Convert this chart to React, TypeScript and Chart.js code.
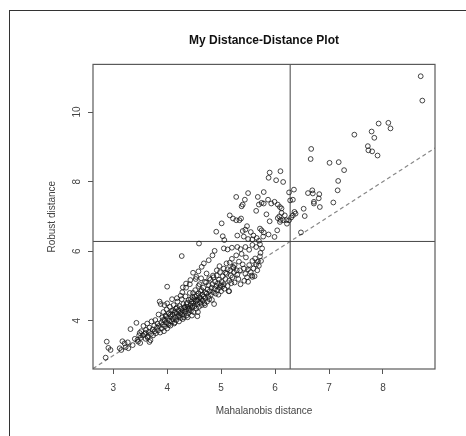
import React, { useEffect, useRef } from "react";
import { Chart, registerables } from "chart.js";

Chart.register(...registerables);

const chartTitle = "My Distance-Distance Plot";
const xAxisTitle = "Mahalanobis distance";
const yAxisTitle = "Robust distance";

const xTickValues = [3, 4, 5, 6, 7, 8];
const yTickValues = [4, 6, 8, 10];

const xRange = [2.625, 8.965];
const yRange = [2.613, 11.37];

// chi-square cutoff used for both distances
const cutoffValue = 6.28;

// [mahalanobis, robust]
const lowerTail: [number, number][] = [
  [2.86, 2.94], [2.88, 3.40], [2.91, 3.22], [2.95, 3.16], [3.12, 3.21], [3.15, 3.16],
  [3.17, 3.41], [3.21, 3.35], [3.23, 3.24], [3.27, 3.38], [3.28, 3.21], [3.32, 3.76],
  [3.36, 3.30], [3.40, 3.48], [3.43, 3.94], [3.45, 3.45], [3.46, 3.40], [3.48, 3.58],
  [3.49, 3.65], [3.51, 3.51], [3.50, 3.36], [3.60, 3.65], [3.64, 3.51], [3.67, 3.39],
];

const denseCore: [number, number][] = [
  [3.52, 3.70], [3.55, 3.58], [3.56, 3.85], [3.58, 3.62], [3.60, 3.48], [3.61, 3.74],
  [3.63, 3.92], [3.64, 3.55], [3.66, 3.68], [3.67, 3.80], [3.69, 3.44], [3.70, 3.62],
  [3.71, 3.98], [3.73, 3.75], [3.74, 3.58], [3.76, 3.86], [3.77, 3.70], [3.78, 4.02],
  [3.79, 3.64], [3.81, 3.80], [3.82, 3.92], [3.83, 3.72], [3.84, 4.18], [3.85, 3.85],
  [3.86, 4.55], [3.87, 3.66], [3.88, 4.48], [3.89, 3.95], [3.90, 3.78], [3.91, 4.10],
  [3.92, 3.88], [3.93, 4.25], [3.94, 3.70], [3.95, 4.02], [3.96, 3.84], [3.97, 4.15],
  [3.98, 3.95], [3.99, 4.32], [4.00, 3.78], [4.01, 4.08], [4.02, 3.92], [4.03, 4.22],
  [4.04, 4.00], [4.05, 4.40], [4.06, 3.86], [4.07, 4.12], [4.08, 4.28], [4.09, 3.98],
  [4.10, 4.18], [4.11, 4.05], [4.12, 4.45], [4.13, 3.92], [4.14, 4.25], [4.15, 4.10],
  [4.16, 4.35], [4.17, 4.02], [4.18, 4.20], [4.19, 4.55], [4.20, 4.12], [4.21, 4.30],
  [4.22, 3.98], [4.23, 4.42], [4.24, 4.22], [4.25, 4.08], [4.26, 4.35], [4.27, 4.62],
  [4.28, 4.18], [4.29, 4.28], [4.30, 4.48], [4.31, 4.10], [4.32, 4.38], [4.33, 4.25],
  [4.34, 4.70], [4.35, 4.32], [4.36, 4.15], [4.37, 4.52], [4.38, 4.40], [4.39, 4.22],
  [4.40, 4.60], [4.41, 4.35], [4.42, 4.80], [4.43, 4.45], [4.44, 4.28], [4.45, 4.55],
  [4.46, 4.38], [4.47, 4.68], [4.48, 4.50], [4.49, 4.25], [4.50, 4.62], [4.51, 4.42],
  [4.52, 4.88], [4.53, 4.55], [4.54, 4.35], [4.55, 4.72], [4.56, 4.48], [4.57, 4.60],
  [4.58, 5.00], [4.59, 4.40], [4.60, 4.68], [4.61, 4.52], [4.62, 4.85], [4.63, 4.62],
  [4.64, 4.45], [4.65, 4.75], [4.66, 4.58], [4.67, 4.95], [4.68, 4.70], [4.69, 4.50],
  [4.70, 4.82], [4.71, 4.65], [4.72, 5.10], [4.73, 4.78], [4.74, 4.55], [4.75, 4.90],
  [4.76, 4.70], [4.77, 5.02], [4.78, 4.62], [4.79, 4.85], [4.80, 5.18], [4.81, 4.75],
  [4.82, 4.95], [4.83, 4.60], [4.84, 5.05], [4.85, 4.82], [4.86, 5.25], [4.87, 4.48],
  [4.88, 4.92], [4.89, 5.12], [4.90, 4.78], [4.91, 5.00], [4.92, 5.30], [4.93, 4.88],
  [4.94, 5.08], [4.95, 4.75], [4.96, 5.18], [4.97, 4.95], [4.98, 5.40], [4.99, 5.02],
  [5.00, 4.85], [5.01, 5.12], [5.02, 4.98], [5.03, 5.28], [5.05, 5.05], [5.06, 4.92],
  [5.08, 5.20], [5.10, 5.35], [5.12, 5.00], [5.14, 4.85], [5.15, 5.15], [5.17, 5.45],
  [5.19, 5.08], [5.21, 5.25], [5.23, 5.52], [5.25, 5.10],
  [3.92, 4.02], [3.98, 4.12], [4.03, 3.88], [4.06, 4.18], [4.11, 4.30], [4.14, 3.95],
  [4.18, 4.38], [4.22, 4.15], [4.26, 4.25], [4.29, 4.05], [4.33, 4.40], [4.36, 4.48],
  [4.40, 4.30], [4.44, 4.62], [4.47, 4.42], [4.51, 4.70], [4.55, 4.58], [4.58, 4.78],
  [4.61, 4.65], [4.64, 4.88], [4.57, 4.25], [4.46, 4.15], [4.38, 4.10], [4.48, 4.80],
  [4.53, 5.20], [4.42, 5.05], [4.35, 4.95], [4.28, 4.82], [4.25, 4.72], [4.18, 4.65],
  [3.95, 4.45], [4.00, 4.50], [4.09, 4.62], [4.56, 4.13], [4.70, 4.45],
];

const midBand: [number, number][] = [
  [4.27, 5.86], [4.88, 6.01], [4.84, 5.88], [4.77, 5.74], [4.68, 5.65], [4.64, 5.55],
  [4.48, 5.38], [4.54, 5.26], [4.63, 5.22], [4.73, 5.36], [4.43, 5.17], [4.35, 5.07],
  [4.29, 4.96], [4.00, 4.98], [4.97, 5.57], [5.05, 5.50], [5.10, 5.65], [5.16, 5.67],
  [5.22, 5.55], [5.20, 5.78], [5.28, 5.88], [5.33, 5.70], [5.38, 5.92], [5.46, 5.82],
  [5.63, 5.79], [5.25, 5.60], [5.29, 5.45], [5.30, 5.32], [5.32, 5.20], [5.35, 5.45],
  [5.36, 5.05], [5.40, 5.62], [5.42, 5.50], [5.43, 5.15], [5.45, 5.35], [5.48, 5.25],
  [5.50, 5.48], [5.52, 5.60], [5.55, 5.40], [5.57, 5.30], [5.58, 5.72], [5.60, 5.50],
  [5.62, 5.28], [5.65, 5.62], [5.67, 5.45], [5.68, 5.70], [5.70, 5.58], [5.72, 5.85],
  [5.73, 5.95], [5.74, 5.72], [5.15, 4.85], [5.08, 5.38], [5.12, 5.48], [5.18, 5.30],
  [5.24, 5.40], [4.92, 5.45], [4.85, 5.30], [4.78, 5.22], [4.70, 5.12], [4.60, 5.05],
  [4.58, 5.42], [5.58, 5.26], [5.50, 5.12],
  [5.05, 6.08], [5.12, 6.05], [5.20, 6.10], [5.30, 6.12], [5.36, 6.06], [5.45, 6.12],
  [5.52, 6.04], [5.58, 6.18], [5.65, 6.12], [5.72, 6.20], [5.76, 6.08],
];

const upperCluster: [number, number][] = [
  [5.90, 8.26], [6.10, 8.30], [5.88, 8.11], [6.02, 8.04], [6.15, 7.99],
  [6.26, 7.69], [6.33, 7.48], [6.28, 7.46], [6.35, 7.77],
  [5.50, 7.67], [5.28, 7.56], [5.44, 7.48], [5.40, 7.34], [5.38, 7.29],
  [5.79, 7.70], [5.87, 7.48], [5.68, 7.56], [5.75, 7.39], [5.70, 7.34], [5.79, 7.37],
  [5.93, 7.37], [5.99, 7.42], [6.05, 7.34], [6.09, 7.27], [6.12, 7.23],
  [5.65, 7.16], [5.84, 7.06], [6.12, 7.10],
  [6.05, 6.95], [6.10, 6.90], [6.15, 6.89], [6.21, 6.89], [6.26, 6.89], [6.30, 6.97],
  [6.33, 7.03], [6.36, 7.13], [6.38, 7.08], [6.18, 7.03], [6.08, 7.00],
  [5.16, 7.03], [5.22, 6.94], [5.28, 6.89], [5.34, 6.89], [5.37, 6.94],
  [5.01, 6.80], [4.91, 6.56], [5.03, 6.43], [5.06, 6.32],
  [5.90, 6.86], [6.09, 6.84], [6.04, 6.60], [5.99, 6.41],
  [5.45, 6.62], [5.55, 6.55], [5.72, 6.65], [5.75, 6.60], [5.79, 6.54], [5.60, 6.45],
  [5.66, 6.38], [5.50, 6.35], [5.40, 6.58], [5.42, 6.42], [5.30, 6.45], [5.58, 6.34],
  [5.70, 6.30], [5.78, 6.42], [5.88, 6.48], [5.48, 6.72],
  [4.59, 6.22], [6.22, 6.79],
];

const farOutliers: [number, number][] = [
  [8.70, 11.03], [8.73, 10.33], [8.10, 9.69], [8.14, 9.53], [7.92, 9.67], [7.79, 9.44],
  [7.84, 9.26], [7.47, 9.35], [7.72, 9.02], [7.73, 8.90], [7.80, 8.87], [7.90, 8.75],
  [6.67, 8.94], [6.66, 8.65], [7.01, 8.54], [7.18, 8.56], [7.28, 8.33], [7.17, 8.02],
  [7.16, 7.75], [7.08, 7.40], [6.82, 7.64], [6.81, 7.52], [6.83, 7.27], [6.72, 7.42],
  [6.72, 7.37], [6.69, 7.75], [6.70, 7.66], [6.61, 7.67], [6.53, 7.22], [6.55, 7.01],
  [6.48, 6.54],
];

const FONT = "'Liberation Sans', Arial, Helvetica, sans-serif";

export default function App() {
  const canvasRef = useRef<HTMLCanvasElement | null>(null);

  useEffect(() => {
    const canvas = canvasRef.current;
    if (!canvas) return;

    const allPoints = [...lowerTail, ...denseCore, ...midBand, ...upperCluster, ...farOutliers].map(
      ([x, y]) => ({ x, y })
    );

    const rBoxPlugin = {
      id: "rBox",
      afterDraw(chart: any) {
        const { ctx, chartArea, scales } = chart;
        ctx.save();
        ctx.strokeStyle = "#5a5a5a";
        ctx.lineWidth = 1.2;
        ctx.strokeRect(
          chartArea.left,
          chartArea.top,
          chartArea.right - chartArea.left,
          chartArea.bottom - chartArea.top
        );
        // rotated y tick labels (R style, parallel to axis)
        const ys = scales.y;
        ctx.fillStyle = "#444";
        ctx.font = `10px ${FONT}`;
        ctx.textAlign = "center";
        ctx.textBaseline = "middle";
        for (const t of ys.ticks) {
          const py = ys.getPixelForValue(t.value);
          ctx.save();
          ctx.translate(chartArea.left - 16, py);
          ctx.rotate(-Math.PI / 2);
          ctx.fillText(String(t.value), 0, 0);
          ctx.restore();
        }
        ctx.restore();
      },
    };

    const chart = new Chart(canvas, {
      type: "scatter",
      data: {
        datasets: [
          {
            data: allPoints,
            showLine: false,
            pointStyle: "circle",
            pointRadius: 2.4,
            pointHoverRadius: 2.4,
            pointBorderWidth: 1,
            pointBackgroundColor: "rgba(0,0,0,0)",
            pointBorderColor: "rgba(20,20,20,0.78)",
          },
          {
            data: [
              { x: cutoffValue, y: yRange[0] },
              { x: cutoffValue, y: yRange[1] },
            ],
            showLine: true,
            pointRadius: 0,
            borderColor: "#444",
            borderWidth: 1,
          },
          {
            data: [
              { x: xRange[0], y: cutoffValue },
              { x: xRange[1], y: cutoffValue },
            ],
            showLine: true,
            pointRadius: 0,
            borderColor: "#444",
            borderWidth: 1,
          },
          {
            data: [
              { x: xRange[0], y: xRange[0] },
              { x: xRange[1], y: xRange[1] },
            ],
            showLine: true,
            pointRadius: 0,
            borderColor: "#888",
            borderWidth: 1.2,
            borderDash: [4, 3],
          },
        ],
      },
      options: {
        responsive: false,
        animation: false,
        devicePixelRatio: 1,
        layout: { padding: { left: 0, right: 31, top: 0, bottom: 0 } },
        plugins: {
          legend: { display: false },
          tooltip: { enabled: false },
          title: {
            display: true,
            text: chartTitle,
            fullSize: false,
            color: "#111",
            font: { family: FONT, size: 12, weight: "bold" },
            padding: { top: 33, bottom: 17 },
          },
        },
        scales: {
          x: {
            type: "linear",
            min: xRange[0],
            max: xRange[1],
            afterBuildTicks: (s: any) => {
              s.ticks = xTickValues.map((v) => ({ value: v }));
            },
            afterFit: (s: any) => {
              s.height = 67;
            },
            border: { display: false },
            grid: { drawOnChartArea: false, drawTicks: true, tickLength: 5, color: "#555", lineWidth: 1 },
            ticks: {
              color: "#444",
              font: { family: FONT, size: 10 },
              padding: 8,
              maxRotation: 0,
              minRotation: 0,
              callback: (v: any) => String(v),
            },
            title: {
              display: true,
              text: xAxisTitle,
              color: "#444",
              font: { family: FONT, size: 10 },
              padding: { top: 0, bottom: 19 },
            },
          },
          y: {
            type: "linear",
            min: yRange[0],
            max: yRange[1],
            afterBuildTicks: (s: any) => {
              s.ticks = yTickValues.map((v) => ({ value: v }));
            },
            afterFit: (s: any) => {
              s.width = 93;
            },
            border: { display: false },
            grid: { drawOnChartArea: false, drawTicks: true, tickLength: 5, color: "#555", lineWidth: 1 },
            ticks: { display: false },
            title: {
              display: true,
              text: yAxisTitle,
              color: "#444",
              font: { family: FONT, size: 10 },
              padding: { top: 46, bottom: 0 },
            },
          },
        },
      },
      plugins: [rBoxPlugin],
    } as any);

    return () => chart.destroy();
  }, []);

  return (
    <div style={{ position: "fixed", left: 0, top: 0, width: 466, height: 436, background: "#fff", overflow: "hidden" }}>
      <canvas ref={canvasRef} width={466} height={436} style={{ position: "absolute", left: 0, top: 0 }} />
      <div
        style={{
          position: "absolute",
          left: 9,
          top: 10,
          width: 480,
          height: 460,
          border: "1px solid #333",
          pointerEvents: "none",
        }}
      />
    </div>
  );
}
